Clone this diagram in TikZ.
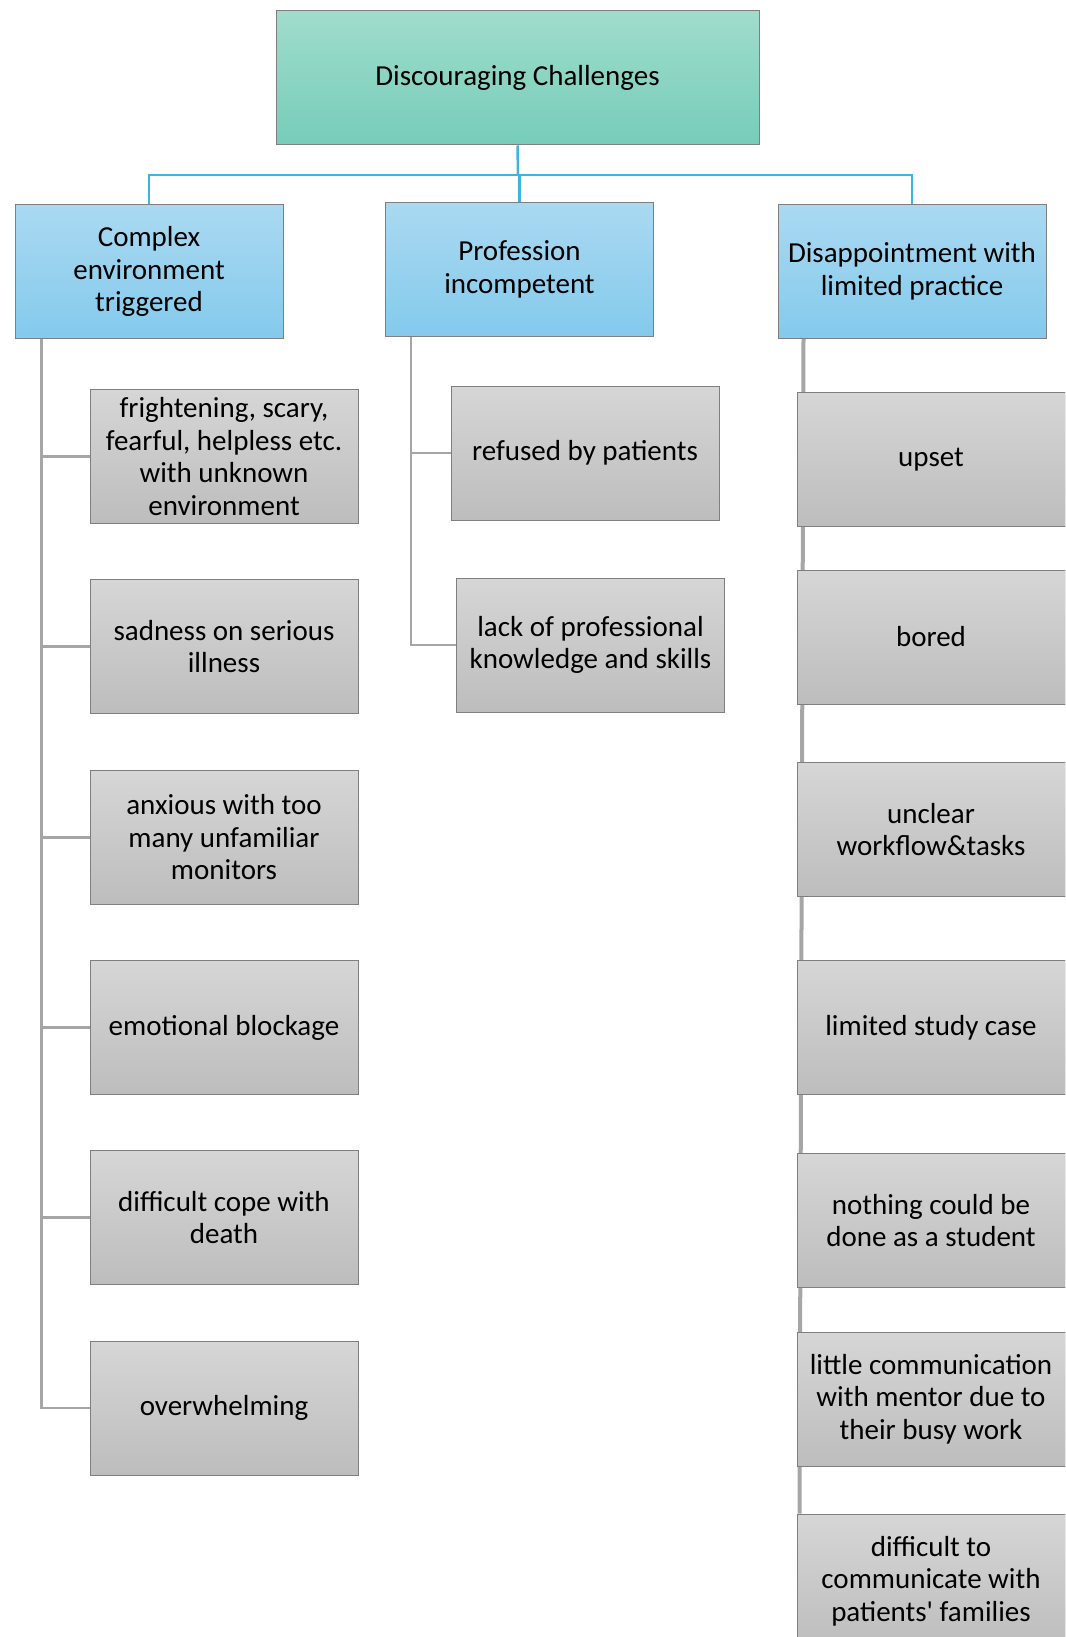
\documentclass[tikz,border=0pt]{standalone}
\usepackage{fontspec}
\setmainfont{Carlito}[Ligatures=TeXOff]
\usetikzlibrary{calc,backgrounds}
\definecolor{rootT}{HTML}{A0DCCC}
\definecolor{rootB}{HTML}{76CDB9}
\definecolor{catT}{HTML}{AAD9F1}
\definecolor{catB}{HTML}{84CAEC}
\definecolor{leafT}{HTML}{D6D6D6}
\definecolor{leafB}{HTML}{BDBDBD}
\definecolor{boxline}{HTML}{7F7F7F}
\definecolor{conblue}{HTML}{3DB5E3}
\definecolor{congray}{HTML}{A6A6A6}
\tikzset{
  basebox/.style={rectangle, draw=boxline, line width=1pt, minimum width=268pt,
    minimum height=134pt, align=center, inner sep=2pt,
    font=\fontsize{29}{32.5}\selectfont},
  rootbox/.style={basebox, top color=rootT, bottom color=rootB, minimum width=483pt},
  catbox/.style={basebox, top color=catT, bottom color=catB, minimum height=133pt},
  leafbox/.style={basebox, top color=leafT, bottom color=leafB},
  bline/.style={draw=conblue, line width=2.5pt},
  gline/.style={draw=congray, line width=2.5pt},
  rline/.style={draw=congray, line width=4pt},
}
\begin{document}
\begin{tikzpicture}[x=1pt,y=-1pt]
\useasboundingbox (0,0) rectangle (1065,1637);
\clip (0,0) rectangle (1065,1637);
% root
\node[rootbox] (root) at (517.5,78) {Discouraging Challenges};
% categories
\node[catbox] (A) at (149,271.5) {Complex\\environment\\triggered};
\node[catbox] (B) at (519.5,269.5) {Profession\\incompetent};
\node[catbox] (C) at (912,271.5) {Disappointment with\\limited practice};
% left leaves
\node[leafbox] (l1) at (224,456.5) {frightening, scary,\\fearful, helpless etc.\\with unknown\\environment};
\node[leafbox] (l2) at (224,646.5) {sadness on serious\\illness};
\node[leafbox] (l3) at (224,837.5) {anxious with too\\many unfamiliar\\monitors};
\node[leafbox] (l4) at (224,1027.5) {emotional blockage};
\node[leafbox] (l5) at (224,1217.5) {difficult cope with\\death};
\node[leafbox] (l6) at (224,1408) {overwhelming};
% middle leaves
\node[leafbox] (m1) at (585,453) {refused by patients};
\node[leafbox] (m2) at (590.5,645) {lack of professional\\knowledge and skills};
% right leaves
\node[leafbox] (r1) at (931,459.5) {upset};
\node[leafbox] (r2) at (931,637) {bored};
\node[leafbox] (r3) at (931,829.5) {unclear\\workflow\&tasks};
\node[leafbox] (r4) at (931,1027.5) {limited study case};
\node[leafbox] (r5) at (931,1220.5) {nothing could be\\done as a student};
\node[leafbox] (r6) at (931,1399) {little communication\\with mentor due to\\their busy work};
\node[leafbox] (r7) at (931,1581) {difficult to\\communicate with\\patients' families};
% connectors
\coordinate (hub) at (518,175);
\draw[bline] (root.south) -- (hub);
\draw[bline] (hub) -| (A.north);
\draw[bline] (hub) -| (B.north);
\draw[bline] (hub) -| (C.north);
\coordinate (ta) at ($(A.south west)+(27,0)$);
\foreach \i in {1,...,6} \draw[gline] (ta) |- (l\i.west);
\coordinate (tb) at ($(B.south west)+(26,0)$);
\foreach \i in {1,2} \draw[gline] (tb) |- (m\i.west);
\begin{pgfonlayer}{background}
\coordinate (tc) at ($(C.south west)+(26,0)$);
\draw[rline] (tc) -- ($(r7.north west)+(3,0)$);
\end{pgfonlayer}
\end{tikzpicture}
\end{document}
